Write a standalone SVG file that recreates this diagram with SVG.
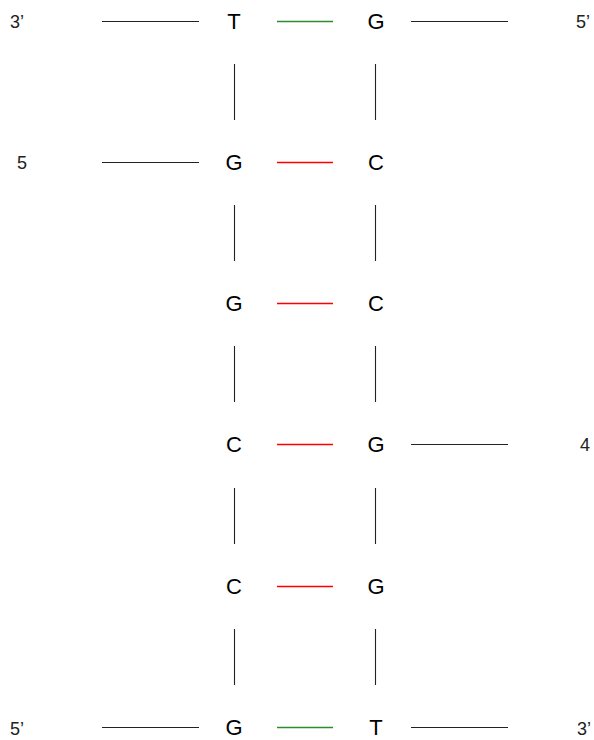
<svg xmlns="http://www.w3.org/2000/svg" width="594" height="740" viewBox="0 0 594 740">
<style>
.b{font-family:"Liberation Sans",Arial,sans-serif;font-size:22px;fill:#000;text-anchor:middle}
.l{font-family:"Liberation Sans",Arial,sans-serif;font-size:18px;fill:#222}
.k{stroke:#222;stroke-width:1.1}
.r{stroke:#ff0000;stroke-width:1.3}
.g{stroke:#2e8b2e;stroke-width:1.3}
</style>
<rect width="594" height="740" fill="#fff"/>
<g id="connectors">
<line class="k" x1="102" y1="21.5" x2="199" y2="21.5"/>
<line class="g" x1="277" y1="21.5" x2="333" y2="21.5"/>
<line class="k" x1="411" y1="21.5" x2="508" y2="21.5"/>
<line class="k" x1="102" y1="162.5" x2="199" y2="162.5"/>
<line class="r" x1="277" y1="162.5" x2="333" y2="162.5"/>
<line class="r" x1="277" y1="303.5" x2="333" y2="303.5"/>
<line class="r" x1="277" y1="444.5" x2="333" y2="444.5"/>
<line class="k" x1="411" y1="444.5" x2="508" y2="444.5"/>
<line class="r" x1="277" y1="586.5" x2="333" y2="586.5"/>
<line class="k" x1="102" y1="727.5" x2="199" y2="727.5"/>
<line class="g" x1="277" y1="727.5" x2="333" y2="727.5"/>
<line class="k" x1="411" y1="727.5" x2="508" y2="727.5"/>
<line class="k" x1="234.5" y1="64" x2="234.5" y2="120"/>
<line class="k" x1="375.5" y1="64" x2="375.5" y2="120"/>
<line class="k" x1="234.5" y1="205" x2="234.5" y2="261"/>
<line class="k" x1="375.5" y1="205" x2="375.5" y2="261"/>
<line class="k" x1="234.5" y1="346" x2="234.5" y2="402"/>
<line class="k" x1="375.5" y1="346" x2="375.5" y2="402"/>
<line class="k" x1="234.5" y1="488" x2="234.5" y2="544"/>
<line class="k" x1="375.5" y1="488" x2="375.5" y2="544"/>
<line class="k" x1="234.5" y1="629" x2="234.5" y2="685"/>
<line class="k" x1="375.5" y1="629" x2="375.5" y2="685"/>
</g>
<g id="n-T1"><text class="b" x="234" y="29">T</text></g>
<g id="n-G1"><text class="b" x="376" y="29">G</text></g>
<g id="n-G2"><text class="b" x="234" y="170">G</text></g>
<g id="n-C2"><text class="b" x="376" y="170">C</text></g>
<g id="n-G3"><text class="b" x="234" y="311">G</text></g>
<g id="n-C3"><text class="b" x="376" y="311">C</text></g>
<g id="n-C4"><text class="b" x="234" y="452">C</text></g>
<g id="n-G4"><text class="b" x="376" y="452">G</text></g>
<g id="n-C5"><text class="b" x="234" y="594">C</text></g>
<g id="n-G5"><text class="b" x="376" y="594">G</text></g>
<g id="n-G6"><text class="b" x="234" y="735">G</text></g>
<g id="n-T6"><text class="b" x="376" y="735">T</text></g>
<g id="labels">
<text class="l" x="10" y="28">3’</text>
<text class="l" x="576" y="28">5’</text>
<text class="l" x="17" y="169">5</text>
<text class="l" x="580" y="451">4</text>
<text class="l" x="10" y="735">5’</text>
<text class="l" x="577" y="735">3’</text>
</g>
</svg>
